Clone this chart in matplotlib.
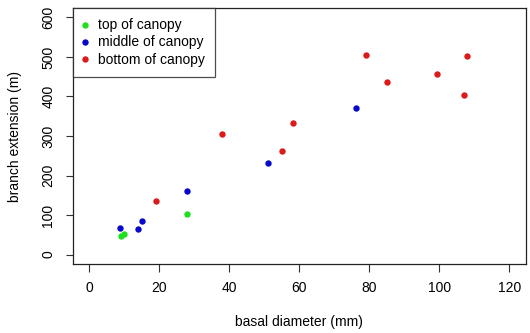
import matplotlib
matplotlib.use("Agg")
import matplotlib.pyplot as plt

# values
top_x = [9.0, 9.9, 28.0]
top_y = [48, 51, 103]

mid_x = [8.9, 14.0, 15.0, 28.0, 51.1, 76.1]
mid_y = [68, 65, 84, 160, 231, 370]

bot_x = [19.0, 38.0, 55.1, 58.1, 79.1, 85.1, 99.5, 107.2, 107.8]
bot_y = [135, 304, 261, 332, 505, 437, 458, 403, 503]

groups = ["top of canopy", "middle of canopy", "bottom of canopy"]
colours = ["#1ee01e", "#0808cc", "#dd1a1a"]

plt.rcParams["font.family"] = ["Liberation Sans", "DejaVu Sans"]
plt.rcParams["font.size"] = 10

fig = plt.figure(figsize=(5.3, 3.33), dpi=100)
ax = fig.add_axes([72.5 / 530, 1 - 264 / 333, (526 - 72.5) / 530, (264 - 8) / 333])

for xs, ys, c, lab in zip([top_x, mid_x, bot_x], [top_y, mid_y, bot_y], colours, groups):
    ax.plot(xs, ys, linestyle="None", marker="o", markersize=4.6,
            markeredgewidth=0, color=c, label=lab)

ax.set_xlim(-4.8, 124.8)
ax.set_ylim(-24, 624)
ax.set_xticks(range(0, 121, 20))
ax.set_yticks(range(0, 601, 100))
ax.tick_params(direction="out", length=5.4, width=0.8, color="#333333", pad=7)
for lbl in ax.get_yticklabels():
    lbl.set_rotation(90)
    lbl.set_va("center")
for s in ax.spines.values():
    s.set_linewidth(0.9)
    s.set_color("#222222")

ax.set_xlabel("basal diameter (mm)", labelpad=14)
ax.set_ylabel("branch extension (m)", labelpad=14)

leg = ax.legend(loc="upper left", borderaxespad=0, fancybox=False, frameon=True,
                handletextpad=0.8, handlelength=0.3, labelspacing=0.22,
                borderpad=0.75, markerscale=1.0)
leg.get_frame().set_edgecolor("#222222")
leg.get_frame().set_linewidth(0.9)

fig.savefig("out.png", dpi=100)
